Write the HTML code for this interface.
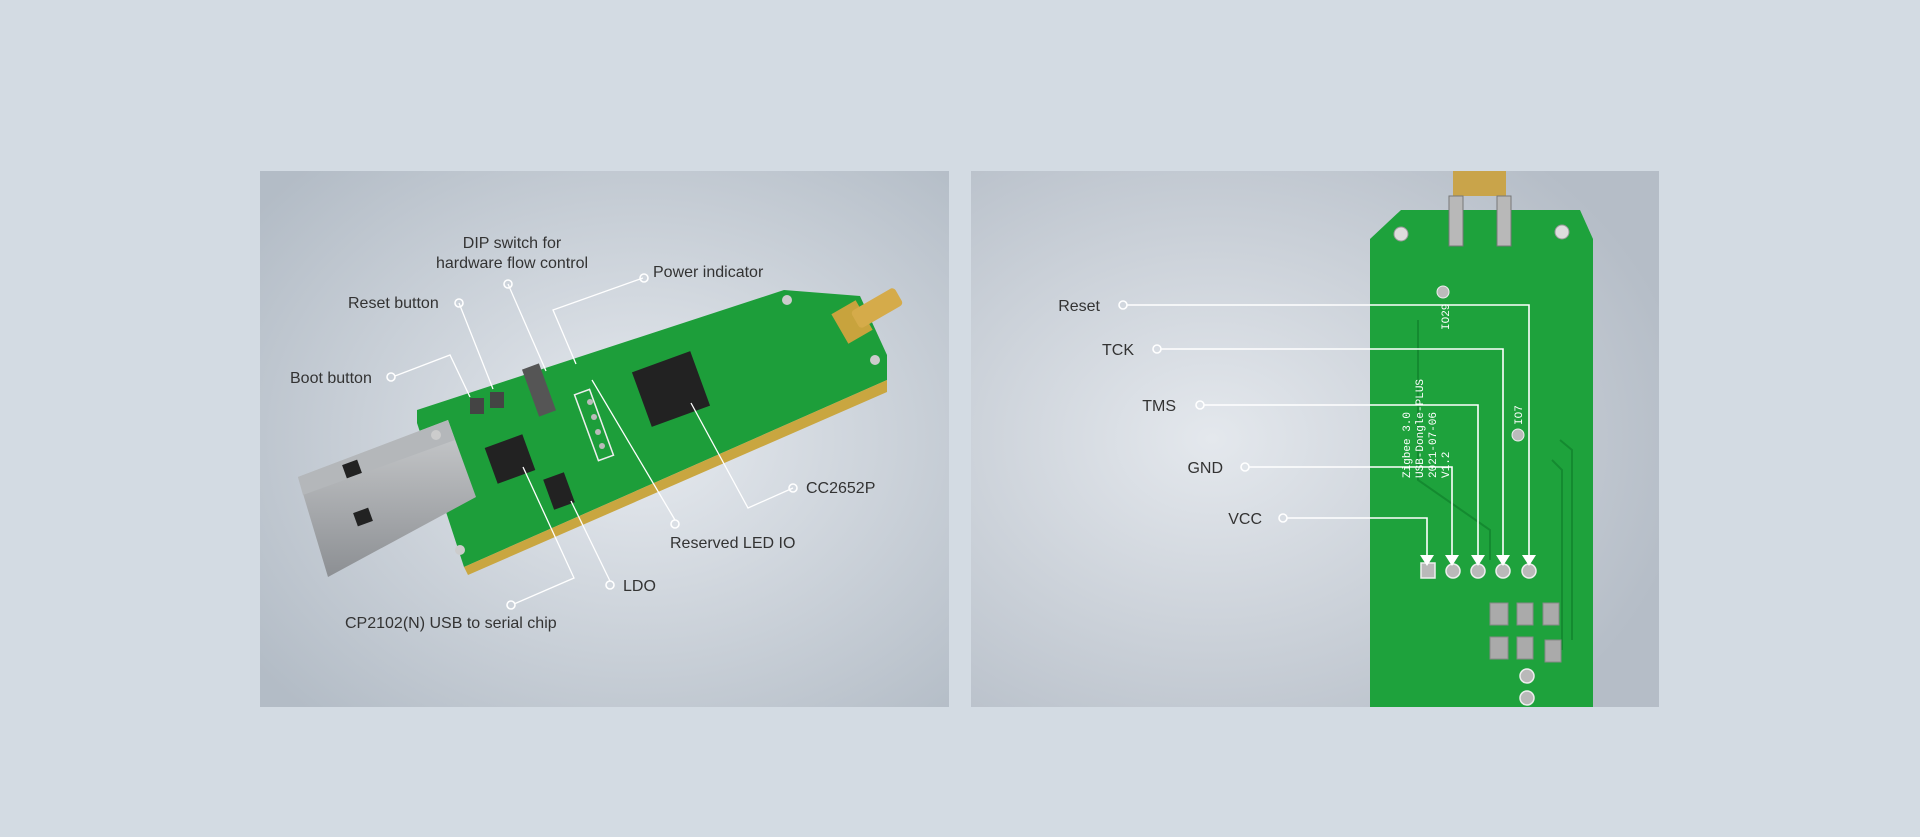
<!DOCTYPE html>
<html><head><meta charset="utf-8"><style>
html,body{margin:0;padding:0;width:1920px;height:837px;background:#d3dbe3;overflow:hidden}
svg{display:block}
text{font-family:"Liberation Sans",sans-serif;font-size:16px;fill:#333}
text.silk{font-family:"Liberation Mono",monospace;font-size:11px;fill:#fff}
</style></head><body>
<svg width="1920" height="837" viewBox="0 0 1920 837">
<defs>
<radialGradient id="bg1" cx="0.55" cy="0.5" r="0.7">
<stop offset="0" stop-color="#e6eaef"/><stop offset="1" stop-color="#b3bcc6"/></radialGradient>
<radialGradient id="bg2" cx="0.35" cy="0.5" r="0.7">
<stop offset="0" stop-color="#e4e8ed"/><stop offset="1" stop-color="#b5bdc7"/></radialGradient>
<linearGradient id="usb" x1="0" y1="0" x2="0" y2="1"><stop offset="0" stop-color="#c9cbcd"/><stop offset="1" stop-color="#8c8f93"/></linearGradient>
</defs>
<rect x="260" y="171" width="689" height="536" fill="url(#bg1)"/>
<rect x="971" y="171" width="688" height="536" fill="url(#bg2)"/>

<!-- LEFT BOARD -->
<polygon points="417,410 784,290 860,296 887,355 887,380 464,567 417,423" fill="#1d9e3a"/>
<polygon points="464,567 887,380 887,392 468,575" fill="#c9a640"/>
<!-- SMA -->
<rect x="838" y="305" width="28" height="34" fill="#c8a33d" transform="rotate(-30 852 322)"/>
<rect x="852" y="298" width="50" height="20" rx="4" fill="#d5ab4a" transform="rotate(-30 877 308)"/>
<!-- USB -->
<polygon points="298,477 448,420 476,497 328,577" fill="url(#usb)"/>
<polygon points="298,477 448,420 455,440 303,495" fill="#b4b7ba"/>
<rect x="344" y="462" width="16" height="14" fill="#222" transform="rotate(-20 352 469)"/>
<rect x="355" y="510" width="16" height="14" fill="#222" transform="rotate(-20 363 517)"/>
<!-- chips -->
<rect x="490" y="440" width="40" height="38" fill="#222" transform="rotate(-20 510 459)"/>
<rect x="640" y="360" width="62" height="58" fill="#222" transform="rotate(-20 671 389)"/>
<rect x="548" y="475" width="22" height="32" fill="#222" transform="rotate(-20 559 491)"/>
<rect x="530" y="365" width="18" height="50" fill="#555" transform="rotate(-20 539 390)"/>
<rect x="470" y="398" width="14" height="16" fill="#444"/>
<rect x="490" y="392" width="14" height="16" fill="#444"/>
<rect x="586" y="390" width="16" height="70" fill="none" stroke="#eee" stroke-width="1.5" transform="rotate(-20 594 425)"/>
<g fill="#bbb"><circle cx="590" cy="402" r="3"/><circle cx="594" cy="417" r="3"/><circle cx="598" cy="432" r="3"/><circle cx="602" cy="446" r="3"/></g>
<g fill="#ccc"><circle cx="436" cy="435" r="5"/><circle cx="460" cy="550" r="5"/><circle cx="787" cy="300" r="5"/><circle cx="875" cy="360" r="5"/></g>

<!-- left callouts -->
<g stroke="#fff" stroke-width="1.3" fill="none">
<polyline points="395,376 450,355 470,397"/>
<polyline points="459,303 493,389"/>
<polyline points="508,284 546,371"/>
<polyline points="643,278 553,310 576,364"/>
<polyline points="793,488 748,508 691,403"/>
<polyline points="675,520 592,380"/>
<polyline points="610,581 571,501"/>
<polyline points="514,604 574,578 523,467"/>
</g>
<g stroke="#fff" stroke-width="1.6" fill="none">
<circle cx="391" cy="377" r="4"/><circle cx="459" cy="303" r="4"/><circle cx="508" cy="284" r="4"/>
<circle cx="644" cy="278" r="4"/><circle cx="793" cy="488" r="4"/><circle cx="675" cy="524" r="4"/>
<circle cx="610" cy="585" r="4"/><circle cx="511" cy="605" r="4"/>
</g>
<text x="512" y="248" text-anchor="middle">DIP switch for</text>
<text x="512" y="268" text-anchor="middle">hardware flow control</text>
<text x="653" y="277">Power indicator</text>
<text x="348" y="308">Reset button</text>
<text x="290" y="383">Boot button</text>
<text x="806" y="493">CC2652P</text>
<text x="670" y="548">Reserved LED IO</text>
<text x="623" y="591">LDO</text>
<text x="345" y="628">CP2102(N) USB to serial chip</text>

<!-- RIGHT BOARD -->
<rect x="1453" y="171" width="53" height="25" fill="#c9a44a"/>
<polygon points="1370,707 1370,239 1401,210 1580,210 1593,239 1593,707" fill="#1ea23c"/>
<rect x="1449" y="196" width="14" height="50" fill="#b8b8b8" stroke="#777"/>
<rect x="1497" y="196" width="14" height="50" fill="#b8b8b8" stroke="#777"/>
<circle cx="1401" cy="234" r="7" fill="#ddd" stroke="#999"/>
<circle cx="1562" cy="232" r="7" fill="#ddd" stroke="#999"/>
<circle cx="1443" cy="292" r="6" fill="#bbb" stroke="#eee"/>
<circle cx="1518" cy="435" r="6" fill="#bbb" stroke="#eee"/>
<g fill="none" stroke="#148a30" stroke-width="2"><polyline points="1418,320 1418,480 1490,530 1490,560"/><polyline points="1560,440 1572,450 1572,640"/><polyline points="1552,460 1562,470 1562,650"/></g>
<g fill="#b9b9b9" stroke="#eee" stroke-width="1.5">
<rect x="1421" y="563" width="14" height="15"/>
<circle cx="1453" cy="571" r="7"/><circle cx="1478" cy="571" r="7"/><circle cx="1503" cy="571" r="7"/><circle cx="1529" cy="571" r="7"/>
<circle cx="1527" cy="676" r="7"/><circle cx="1527" cy="698" r="7"/>
</g>
<g fill="#aaa" stroke="#888">
<rect x="1490" y="603" width="18" height="22"/><rect x="1517" y="603" width="16" height="22"/><rect x="1543" y="603" width="16" height="22"/>
<rect x="1490" y="637" width="18" height="22"/><rect x="1517" y="637" width="16" height="22"/><rect x="1545" y="640" width="16" height="22"/>
</g>
<text class="silk" transform="translate(1410,478) rotate(-90)">Zigbee 3.0</text>
<text class="silk" transform="translate(1423,478) rotate(-90)">USB-Dongle-PLUS</text>
<text class="silk" transform="translate(1436,478) rotate(-90)">2021-07-06</text>
<text class="silk" transform="translate(1449,478) rotate(-90)">V1.2</text>
<text class="silk" transform="translate(1449,330) rotate(-90)">IO29</text>
<text class="silk" transform="translate(1522,425) rotate(-90)">IO7</text>
<!-- right callouts -->
<g stroke="#fff" stroke-width="1.6" fill="none">
<polyline points="1127,305 1529,305 1529,562"/>
<polyline points="1161,349 1503,349 1503,562"/>
<polyline points="1204,405 1478,405 1478,562"/>
<polyline points="1249,467 1452,467 1452,562"/>
<polyline points="1287,518 1427,518 1427,562"/>
<circle cx="1123" cy="305" r="4"/><circle cx="1157" cy="349" r="4"/><circle cx="1200" cy="405" r="4"/><circle cx="1245" cy="467" r="4"/><circle cx="1283" cy="518" r="4"/>
</g>
<g fill="#fff">
<polygon points="1522,555 1536,555 1529,566"/><polygon points="1496,555 1510,555 1503,566"/><polygon points="1471,555 1485,555 1478,566"/><polygon points="1445,555 1459,555 1452,566"/><polygon points="1420,555 1434,555 1427,566"/>
</g>
<text x="1100" y="311" text-anchor="end">Reset</text>
<text x="1134" y="355" text-anchor="end">TCK</text>
<text x="1176" y="411" text-anchor="end">TMS</text>
<text x="1223" y="473" text-anchor="end">GND</text>
<text x="1262" y="524" text-anchor="end">VCC</text>
</svg>
</body></html>
